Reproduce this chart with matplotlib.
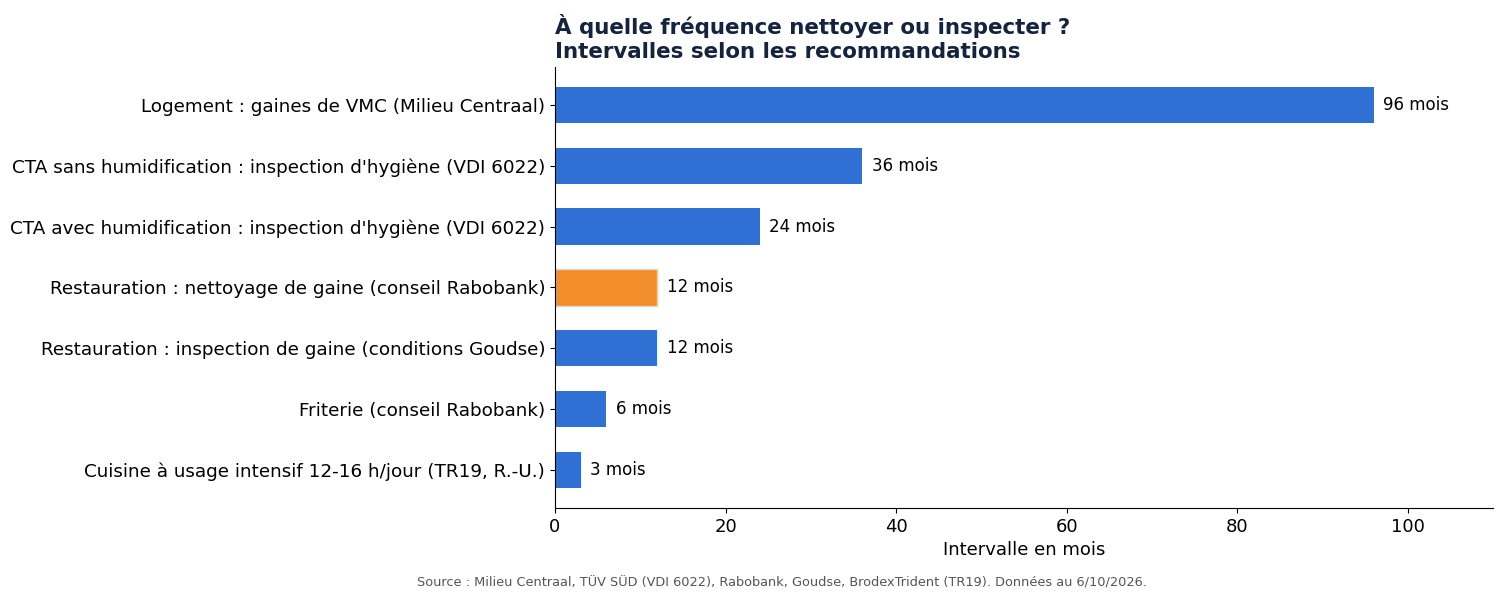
import numpy as np
from matplotlib import pyplot as plt

# Données
categories = [
    "Logement : gaines de VMC (Milieu Centraal)",
    "CTA sans humidification : inspection d'hygiène (VDI 6022)",
    "CTA avec humidification : inspection d'hygiène (VDI 6022)",
    "Restauration : nettoyage de gaine (conseil Rabobank)",
    "Restauration : inspection de gaine (conditions Goudse)",
    "Friterie (conseil Rabobank)",
    "Cuisine à usage intensif 12-16 h/jour (TR19, R.-U.)",
]
mois = [96, 36, 24, 12, 12, 6, 3]
surligne = [False, False, False, True, False, False, False]

bleu = '#3070d4'
orange = '#f28e2b'

fig = plt.figure(figsize=(15.04, 6.02), dpi=100)
ax = fig.add_axes([0.369, 0.156, 0.6237, 0.733])

y = np.arange(len(categories))
couleurs = [orange if s else bleu for s in surligne]
bords = ['#d9d9d9' if s else 'none' for s in surligne]
bars = ax.barh(y, mois, height=0.6, color=couleurs, edgecolor=bords, linewidth=1.0)
ax.invert_yaxis()

for b, v in zip(bars, mois):
    ax.annotate(f"{v} mois", (b.get_width(), b.get_y() + b.get_height() / 2),
                xytext=(7, 0), textcoords='offset points', va='center', ha='left',
                fontsize=12)

ax.set_yticks(y)
ax.set_yticklabels(categories, fontsize=13.25)
ax.set_xlim(0, 110)
ax.set_xticks([0, 20, 40, 60, 80, 100])
ax.tick_params(axis='x', labelsize=13)
ax.set_xlabel('Intervalle en mois', fontsize=13)
ax.spines['top'].set_visible(False)
ax.spines['right'].set_visible(False)

ax.set_title("À quelle fréquence nettoyer ou inspecter ?\nIntervalles selon les recommandations",
             loc='left', fontsize=15.4, fontweight='bold', color='#14243f', pad=6,
             linespacing=1.25)

fig.text(0.52, 0.031, "Source : Milieu Centraal, TÜV SÜD (VDI 6022), Rabobank, Goudse, "
         "BrodexTrident (TR19). Données au 6/10/2026.",
         ha='center', va='center', fontsize=9.3, color='#555555')

plt.savefig('out.png', dpi=100)
